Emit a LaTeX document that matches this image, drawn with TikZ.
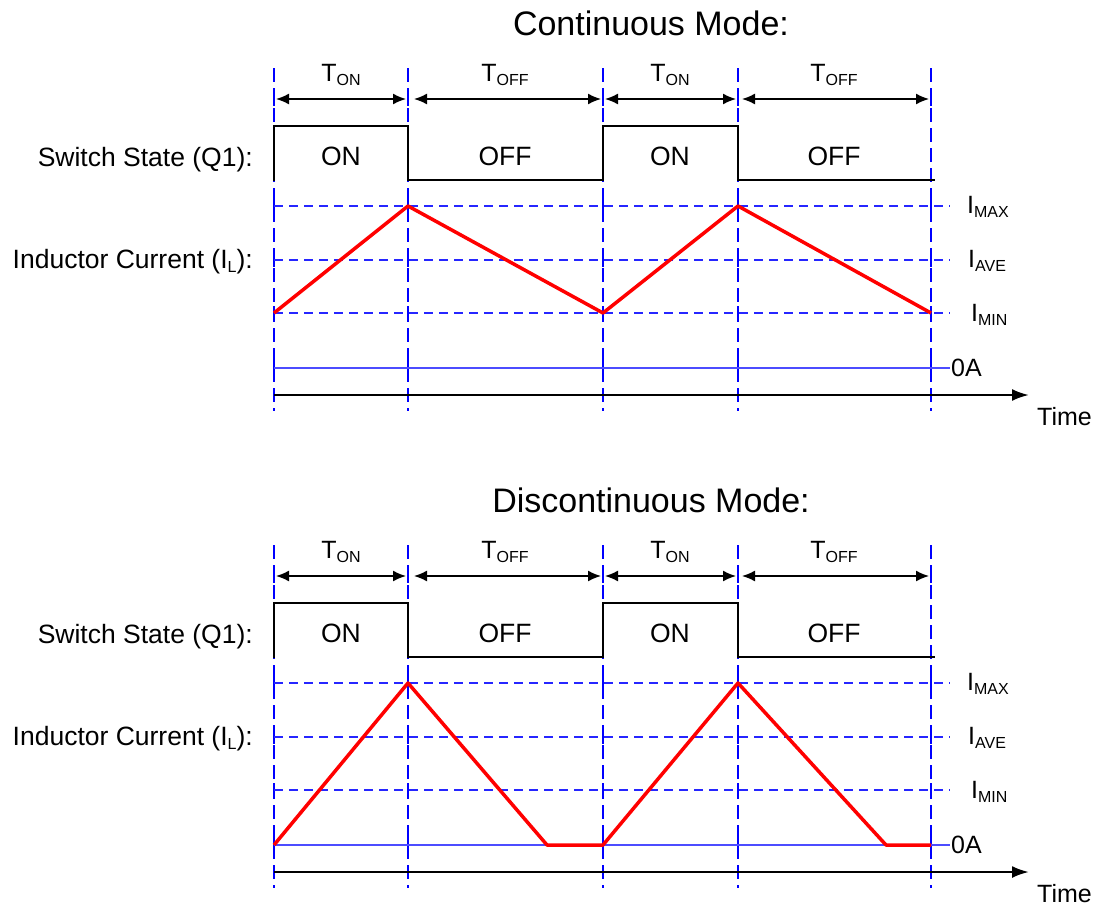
\documentclass[tikz,border=0pt]{standalone}
\usepackage{fontspec}
\setmainfont{Liberation Sans}
\usetikzlibrary{arrows.meta}
\newcommand{\sbs}[1]{{\fontsize{16}{16}\selectfont\raisebox{-4pt}{#1}}}
\begin{document}
\begin{tikzpicture}[x=1pt,y=-1pt,
  vline/.style={blue,line width=1.8pt,dash pattern=on 14pt off 6pt},
  hline/.style={blue!85,line width=1.3pt,dash pattern=on 9pt off 6pt},
  zline/.style={blue!70,line width=1.5pt},
  tick/.style={blue,line width=1.5pt},
  sw/.style={black,line width=2pt},
  cur/.style={red,line width=3.5pt,line join=round},
  axis/.style={black,line width=2.4pt,-{Latex[length=17pt,width=12pt]}},
  dim/.style={black,line width=1.6pt,{Latex[length=13pt,width=11pt]}-{Latex[length=13pt,width=11pt]}},
  lab/.style={font=\fontsize{26.5}{30}\selectfont,inner sep=0pt},
  ttl/.style={font=\fontsize{34}{38}\selectfont,inner sep=0pt},
  tl/.style={font=\fontsize{25}{28}\selectfont,inner sep=0pt},
  rl/.style={font=\fontsize{25}{28}\selectfont,inner sep=0pt,anchor=west}]
\useasboundingbox (0,0) rectangle (1096,908);
\foreach \dy/\mode/\kind in {0/Continuous Mode:/c, 477/Discontinuous Mode:/d}{
  \begin{scope}[yshift=-\dy pt]
  \node[ttl] (title\kind) at (651,23) {\mode};
  % vertical dashed lines
  \foreach \x [count=\i] in {274,408,603,738,931}{
    \coordinate (t\kind\i) at (\x,68);
    \coordinate (b\kind\i) at (\x,411);
    \draw[vline] (t\kind\i) -- (b\kind\i);
    \foreach \yy in {99,206,260,313,368,395}{
      \draw[tick] (\x,\yy-7) -- (\x,\yy+7);
    }
  }
  % dimension arrows
  \draw[dim] (276,99) -- (406,99);
  \draw[dim] (414,99) -- (601,99);
  \draw[dim] (605,99) -- (736,99);
  \draw[dim] (742,99) -- (929,99);
  \node[tl] (ton1\kind) at (341,75) {T\sbs{ON}};
  \node[tl] (toff1\kind) at (505,75) {T\sbs{OFF}};
  \node[tl] (ton2\kind) at (670,75) {T\sbs{ON}};
  \node[tl] (toff2\kind) at (834,75) {T\sbs{OFF}};
  % switch
  \draw[sw] (274,181) -- (274,126) -- (408,126) -- (408,180) -- (603,180) -- (603,126) -- (738,126) -- (738,180) -- (935,180);
  \node[lab] (on1\kind) at (341,156) {ON};
  \node[lab] (off1\kind) at (505,156) {OFF};
  \node[lab] (on2\kind) at (670,156) {ON};
  \node[lab] (off2\kind) at (834,156) {OFF};
  \node[lab,anchor=east] (sws\kind) at (253,160) {Switch State (Q1):};
  \node[lab,anchor=east] (ind\kind) at (253,262) {Inductor Current (I\sbs{L}):};
  % levels
  \draw[hline] (274,206) -- (950,206);
  \draw[hline] (274,260) -- (950,260);
  \draw[hline] (274,313) -- (950,313);
  \draw[zline] (274,368) -- (950,368);
  \node[rl] (imax\kind) at (967,207) {I\sbs{MAX}};
  \node[rl] (iave\kind) at (968,261) {I\sbs{AVE}};
  \node[rl] (imin\kind) at (971,315) {I\sbs{MIN}};
  \node[rl] (zero\kind) at (951,368) {0A};
  % time axis
  \coordinate (ax0\kind) at (274,395);
  \coordinate (ax1\kind) at (1029,395);
  \draw[axis] (ax0\kind) -- (ax1\kind);
  \node[rl] (time\kind) at (1037,417) {Time};
  \end{scope}
}
% currents
\draw[cur] (274,313) -- (408,206) -- (603,313) -- (738,206) -- (931,313);
\draw[cur] (274,845) -- (408,683) -- (547,845) -- (603,845) -- (738,683) -- (886,845) -- (931,845);
\end{tikzpicture}
\end{document}
